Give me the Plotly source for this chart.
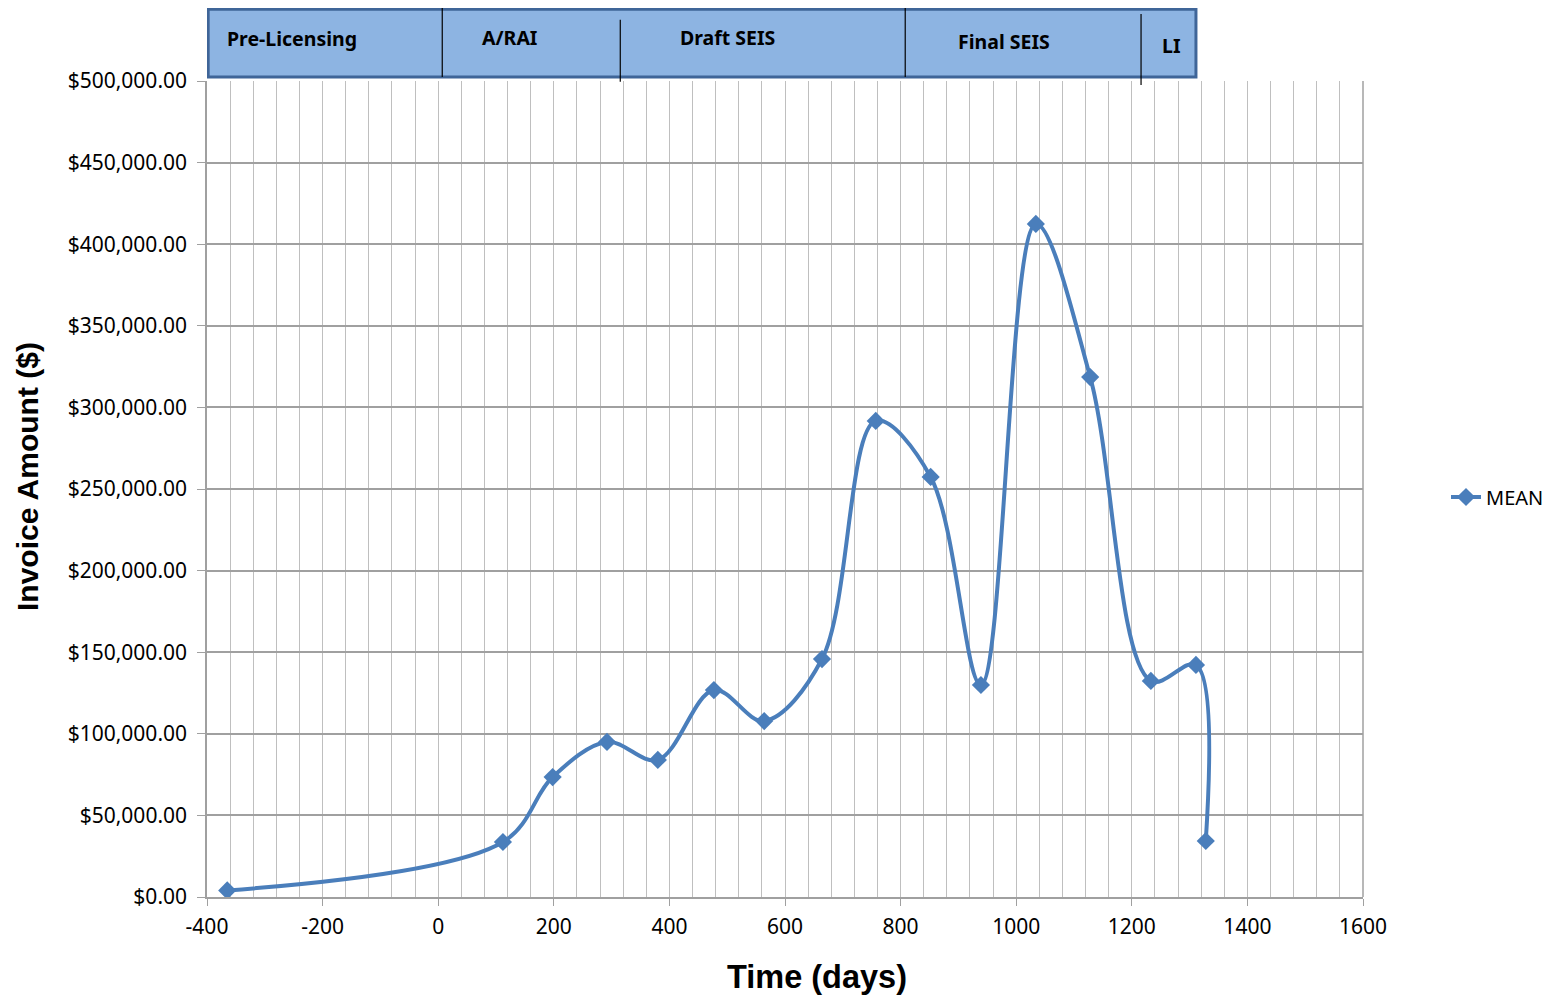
import plotly.graph_objects as go

days = [-365, 112, 198, 292, 380, 477, 564, 664, 757, 852, 939, 1034, 1128, 1233, 1311, 1328]
mean_invoice = [4000, 33700, 73500, 95000, 84000, 126800, 107800, 145800, 291700,
                257400, 129900, 412400, 318600, 132400, 142200, 34300]

phase_names = ["Pre-Licensing", "A/RAI", "Draft SEIS", "Final SEIS", "LI"]
phase_label_x = [-253, 124, 500, 979, 1269]
phase_label_y = [1.0515, 1.0527, 1.0527, 1.0478, 1.044]
phase_dividers = [7, 315, 808, 1216]
divider_y = [(1.0049, 1.09), (0.999, 1.075), (1.0049, 1.09), (0.995, 1.082)]
box_x = (-398, 1311)

x_ticks = list(range(-400, 1601, 200))
x_tick_text = [str(v) for v in x_ticks]
y_ticks = list(range(0, 500001, 50000))
y_tick_text = ["${:,.2f}".format(v) for v in y_ticks]

blue = "#4A7EBB"
tick_font = dict(family="Noto Sans", size=21, color="#000000")

# page offset (browser body margin) compensation
OFF = 8
L, R, T, B = 207, 201, 81, 100
W, H = 1564, 997
pw, ph = W - L - R, H - T - B

def px(xp):
    return (xp - L) / pw

def py(yp):
    return (H - B - yp) / ph

fig = go.Figure()
fig.add_trace(go.Scatter(
    x=days, y=mean_invoice, name="MEAN", mode="lines+markers",
    line=dict(color=blue, width=4, shape="spline", smoothing=1.0),
    marker=dict(symbol="diamond", size=14, color=blue),
))

shapes = [dict(type="rect", xref="x", yref="paper", x0=box_x[0], x1=box_x[1],
               y0=1.0049, y1=1.088, fillcolor="#8DB4E2",
               line=dict(color="#3F6598", width=3), layer="above")]
for xd, (ya, yb) in zip(phase_dividers, divider_y):
    shapes.append(dict(type="line", xref="x", yref="paper", x0=xd, x1=xd,
                       y0=ya, y1=yb, line=dict(color="#000000", width=1.2)))
shapes.append(dict(type="line", xref="paper", yref="paper", x0=1, x1=1, y0=0, y1=1,
                   line=dict(color="#A0A0A0", width=1.5)))

annotations = []
for name, lx, ly in zip(phase_names, phase_label_x, phase_label_y):
    annotations.append(dict(text="<b>%s</b>" % name, x=lx, y=ly, xref="x", yref="paper",
                            showarrow=False, xanchor="center", yanchor="middle",
                            font=dict(family="Noto Sans", size=19.5, color="#000000")))
annotations.append(dict(text="<b>Invoice Amount ($)</b>", x=px(28), y=py(476),
                        xref="paper", yref="paper",
                        showarrow=False, textangle=-90, xanchor="center", yanchor="middle",
                        font=dict(family="Liberation Sans", size=30, color="#000000")))
annotations.append(dict(text="<b>Time (days)</b>", x=px(817), y=py(977),
                        xref="paper", yref="paper",
                        showarrow=False, xanchor="center", yanchor="middle",
                        font=dict(family="Liberation Sans", size=32.5, color="#000000")))

fig.update_layout(
    width=W - OFF, height=H - OFF,
    margin=dict(l=L - OFF, r=R, t=T - OFF, b=B, autoexpand=False),
    plot_bgcolor="#FFFFFF", paper_bgcolor="#FFFFFF",
    showlegend=True,
    legend=dict(x=px(1446), y=py(497), xanchor="left", yanchor="middle",
                font=dict(family="Noto Sans", size=20, color="#000000"),
                bgcolor="rgba(0,0,0,0)", borderwidth=0),
    shapes=shapes, annotations=annotations,
    xaxis=dict(range=[-400, 1600], tickmode="array", tickvals=x_ticks, ticktext=x_tick_text,
               showgrid=True, gridcolor="#BFBFBF", gridwidth=1.2,
               minor=dict(tick0=-400, dtick=40, showgrid=True, gridcolor="#BFBFBF", gridwidth=1.2),
               showline=True, linecolor="#A0A0A0", linewidth=1.5, mirror=False,
               ticks="outside", ticklen=7, tickcolor="#A0A0A0", ticklabelstandoff=3,
               tickfont=tick_font, zeroline=False),
    yaxis=dict(range=[0, 500000], tickmode="array", tickvals=y_ticks, ticktext=y_tick_text,
               showgrid=True, gridcolor="#A0A0A0", gridwidth=1.5,
               showline=True, linecolor="#A0A0A0", linewidth=1.5,
               ticks="outside", ticklen=8, tickcolor="#A0A0A0", ticklabelstandoff=6,
               tickfont=tick_font, zeroline=False),
)

fig.write_html("out.html")
